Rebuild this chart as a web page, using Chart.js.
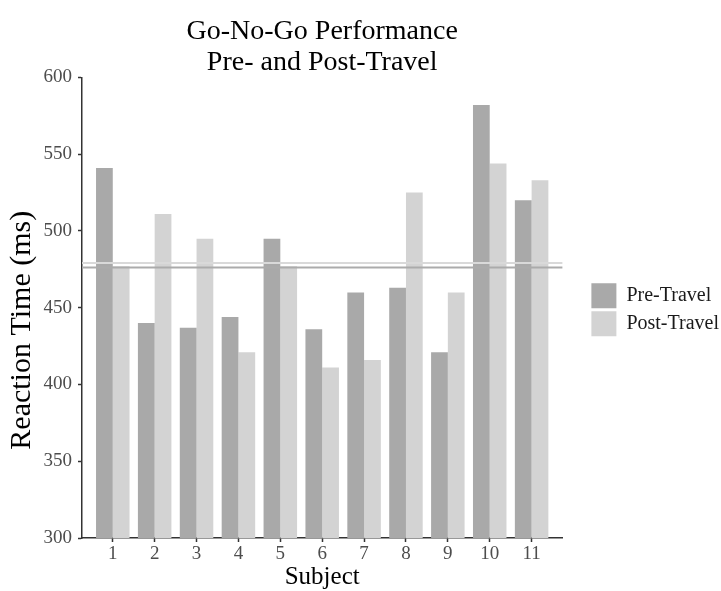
<!DOCTYPE html>
<html>
<head>
<meta charset="utf-8">
<script src="https://cdn.jsdelivr.net/npm/chart.js@4"></script>
<style>
  html, body { margin: 0; padding: 0; background: #fff; }
  #wrap { width: 721px; height: 591px; }
</style>
</head>
<body>
<div id="wrap"><canvas id="goNoGo"></canvas></div>
<script>
// subjects and reaction times (ms)
const subjects = [1, 2, 3, 4, 5, 6, 7, 8, 9, 10, 11];
const preTravel = [541, 440, 437, 444, 495, 436, 460, 463, 421, 582, 520];
const postTravel = [477, 511, 495, 421, 477, 411, 416, 525, 460, 544, 533];
const yTicks = [300, 350, 400, 450, 500, 550, 600];

const serif = "'Liberation Serif', 'Times New Roman', serif";

function mean(arr) {
    return arr.reduce((a, b) => a + b, 0) / arr.length;
}

// horizontal mean lines over the bars
const meanLines = {
    id: 'meanLines',
    afterDatasetsDraw(chart) {
        const {ctx, chartArea, scales} = chart;
        const lines = [
            {value: mean(postTravel), color: '#d9d9d9'},
            {value: mean(preTravel), color: '#ababab'},
        ];
        ctx.save();
        ctx.lineWidth = 2;
        lines.forEach(l => {
            const y = scales.y.getPixelForValue(l.value);
            ctx.strokeStyle = l.color;
            ctx.beginPath();
            ctx.moveTo(chartArea.left, y);
            ctx.lineTo(chartArea.right, y);
            ctx.stroke();
        });
        ctx.restore();
    }
};

// push the legend a bit to the right of (and below) where chart.js puts it
const legendShift = {
    id: 'legendShift',
    afterLayout(chart) {
        chart.legend.left += 26;
        chart.legend.right += 26;
        chart.legend.top += 2;
        chart.legend.bottom += 2;
    }
};

let ctx = document.getElementById("goNoGo");

let chart = new Chart(ctx, {
    type: 'bar',
    data: {
        datasets: [
            {
                label: "Pre-Travel",
                data: subjects.map((s, i) => ({x: s, y: preTravel[i]})),
                backgroundColor: '#a9a9a9',
                borderWidth: 0,
            },
            {
                label: "Post-Travel",
                data: subjects.map((s, i) => ({x: s, y: postTravel[i]})),
                backgroundColor: '#d3d3d3',
                borderWidth: 0,
            },
        ]
    },
    options: {
        responsive: true,
        maintainAspectRatio: false,
        animation: false,
        categoryPercentage: 0.8,
        barPercentage: 1.0,
        layout: { padding: { left: 0, right: 18, top: 0, bottom: 0 } },
        plugins: {
            title: {
                display: true,
                fullSize: false,
                text: ["Go-No-Go Performance", "Pre- and Post-Travel"],
                color: '#000',
                font: { family: serif, size: 28, weight: 'normal', lineHeight: 1.08 },
                padding: { top: 17, bottom: 0 },
            },
            legend: {
                position: 'right',
                fullSize: false,
                labels: {
                    boxWidth: 25,
                    boxHeight: 25,
                    padding: 3,
                    color: '#1a1a1a',
                    font: { family: serif, size: 20 },
                },
            },
            tooltip: { enabled: false },
        },
        scales: {
            x: {
                type: 'linear',
                offset: false,
                min: 0.265,
                max: 11.735,
                afterBuildTicks: (scale) => {
                    scale.ticks = subjects.map(v => ({value: v}));
                },
                afterFit: (scale) => { scale.height = 53; },
                grid: {
                    offset: false,
                    drawOnChartArea: false,
                    drawTicks: true,
                    tickLength: 4,
                    tickColor: '#333',
                    tickWidth: 1.5,
                },
                border: { display: true, color: '#333', width: 1.5 },
                ticks: {
                    color: '#4d4d4d',
                    font: { family: serif, size: 19 },
                    padding: 1,
                    maxRotation: 0,
                    callback: (v) => v,
                },
                title: {
                    display: true,
                    text: "Subject",
                    color: '#000',
                    font: { family: serif, size: 25 },
                    padding: { top: 0, bottom: -1 },
                },
            },
            y: {
                min: 300,
                max: 600,
                afterBuildTicks: (scale) => {
                    scale.ticks = yTicks.map(v => ({value: v}));
                },
                afterFit: (scale) => { scale.width = 82; },
                grid: {
                    drawOnChartArea: false,
                    drawTicks: true,
                    tickLength: 4,
                    tickColor: '#333',
                    tickWidth: 1.5,
                },
                border: { display: true, color: '#333', width: 1.5 },
                ticks: {
                    color: '#4d4d4d',
                    font: { family: serif, size: 19 },
                    padding: 6,
                },
                title: {
                    display: true,
                    text: "Reaction Time (ms)      ",
                    color: '#000',
                    font: { family: serif, size: 30 },
                    padding: { top: 4, bottom: 0 },
                },
            },
        },
    },
    plugins: [meanLines, legendShift],
});
</script>
</body>
</html>
